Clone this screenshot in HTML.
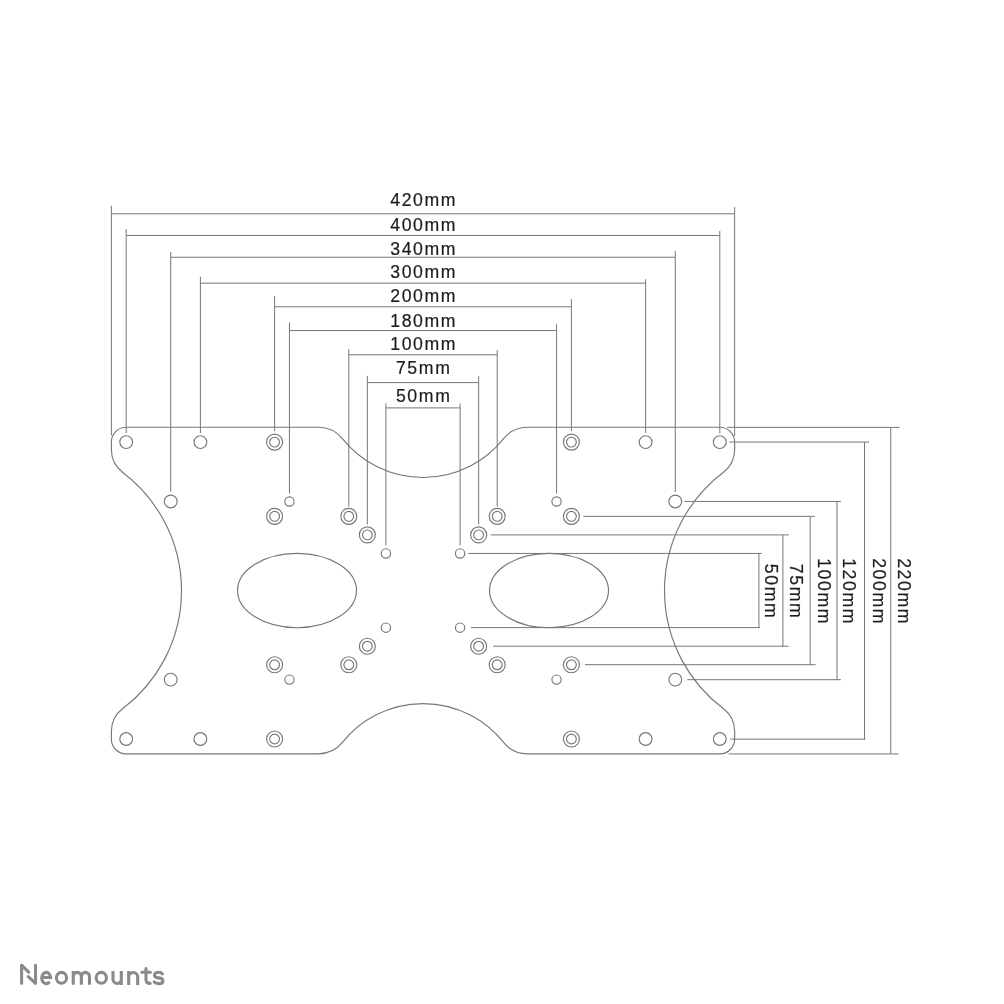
<!DOCTYPE html>
<html><head><meta charset="utf-8"><style>
html,body{margin:0;padding:0;background:#fff;width:1004px;height:1004px;overflow:hidden;}
svg{display:block;will-change:transform;font-family:"Liberation Sans",sans-serif;}
</style></head><body>
<svg width="1004" height="1004" viewBox="0 0 1004 1004">
<rect width="1004" height="1004" fill="#fff"/>
<g fill="none" stroke="#777777" stroke-width="1.0">
<circle cx="126.20" cy="442.10" r="6.40" stroke-width="1.15"/>
<circle cx="200.40" cy="442.10" r="6.40" stroke-width="1.15"/>
<circle cx="274.60" cy="442.10" r="8.00" stroke-width="1.15"/>
<circle cx="274.60" cy="442.10" r="4.90" stroke-width="1.15"/>
<circle cx="170.72" cy="501.48" r="6.40" stroke-width="1.15"/>
<circle cx="289.44" cy="501.48" r="4.65" stroke-width="1.15"/>
<circle cx="274.60" cy="516.32" r="8.00" stroke-width="1.15"/>
<circle cx="274.60" cy="516.32" r="4.90" stroke-width="1.15"/>
<circle cx="348.80" cy="516.32" r="8.00" stroke-width="1.15"/>
<circle cx="348.80" cy="516.32" r="4.90" stroke-width="1.15"/>
<circle cx="367.35" cy="534.88" r="8.00" stroke-width="1.15"/>
<circle cx="367.35" cy="534.88" r="4.90" stroke-width="1.15"/>
<circle cx="385.90" cy="553.44" r="4.65" stroke-width="1.15"/>
<circle cx="126.20" cy="739.00" r="6.40" stroke-width="1.15"/>
<circle cx="200.40" cy="739.00" r="6.40" stroke-width="1.15"/>
<circle cx="274.60" cy="739.00" r="8.00" stroke-width="1.15"/>
<circle cx="274.60" cy="739.00" r="4.90" stroke-width="1.15"/>
<circle cx="170.72" cy="679.62" r="6.40" stroke-width="1.15"/>
<circle cx="289.44" cy="679.62" r="4.65" stroke-width="1.15"/>
<circle cx="274.60" cy="664.77" r="8.00" stroke-width="1.15"/>
<circle cx="274.60" cy="664.77" r="4.90" stroke-width="1.15"/>
<circle cx="348.80" cy="664.77" r="8.00" stroke-width="1.15"/>
<circle cx="348.80" cy="664.77" r="4.90" stroke-width="1.15"/>
<circle cx="367.35" cy="646.22" r="8.00" stroke-width="1.15"/>
<circle cx="367.35" cy="646.22" r="4.90" stroke-width="1.15"/>
<circle cx="385.90" cy="627.66" r="4.65" stroke-width="1.15"/>
<circle cx="719.80" cy="442.10" r="6.40" stroke-width="1.15"/>
<circle cx="645.60" cy="442.10" r="6.40" stroke-width="1.15"/>
<circle cx="571.40" cy="442.10" r="8.00" stroke-width="1.15"/>
<circle cx="571.40" cy="442.10" r="4.90" stroke-width="1.15"/>
<circle cx="675.28" cy="501.48" r="6.40" stroke-width="1.15"/>
<circle cx="556.56" cy="501.48" r="4.65" stroke-width="1.15"/>
<circle cx="571.40" cy="516.32" r="8.00" stroke-width="1.15"/>
<circle cx="571.40" cy="516.32" r="4.90" stroke-width="1.15"/>
<circle cx="497.20" cy="516.32" r="8.00" stroke-width="1.15"/>
<circle cx="497.20" cy="516.32" r="4.90" stroke-width="1.15"/>
<circle cx="478.65" cy="534.88" r="8.00" stroke-width="1.15"/>
<circle cx="478.65" cy="534.88" r="4.90" stroke-width="1.15"/>
<circle cx="460.10" cy="553.44" r="4.65" stroke-width="1.15"/>
<circle cx="719.80" cy="739.00" r="6.40" stroke-width="1.15"/>
<circle cx="645.60" cy="739.00" r="6.40" stroke-width="1.15"/>
<circle cx="571.40" cy="739.00" r="8.00" stroke-width="1.15"/>
<circle cx="571.40" cy="739.00" r="4.90" stroke-width="1.15"/>
<circle cx="675.28" cy="679.62" r="6.40" stroke-width="1.15"/>
<circle cx="556.56" cy="679.62" r="4.65" stroke-width="1.15"/>
<circle cx="571.40" cy="664.77" r="8.00" stroke-width="1.15"/>
<circle cx="571.40" cy="664.77" r="4.90" stroke-width="1.15"/>
<circle cx="497.20" cy="664.77" r="8.00" stroke-width="1.15"/>
<circle cx="497.20" cy="664.77" r="4.90" stroke-width="1.15"/>
<circle cx="478.65" cy="646.22" r="8.00" stroke-width="1.15"/>
<circle cx="478.65" cy="646.22" r="4.90" stroke-width="1.15"/>
<circle cx="460.10" cy="627.66" r="4.65" stroke-width="1.15"/>
<path stroke-width="1.15" d="M126.20,427.26 H318.40 A31.00,31.00 0 0 1 342.60,438.88 A103.00,103.00 0 0 0 503.40,438.88 A31.00,31.00 0 0 1 527.60,427.26 H719.80 A14.84,14.84 0 0 1 734.64,442.10 V449.60 A28.78,28.78 0 0 1 723.21,472.56 A147.90,147.90 0 0 0 723.21,708.54 A28.78,28.78 0 0 1 734.64,731.50 V739.00 A14.84,14.84 0 0 1 719.80,753.84 H527.60 A31.00,31.00 0 0 1 503.40,742.22 A103.00,103.00 0 0 0 342.60,742.22 A31.00,31.00 0 0 1 318.40,753.84 H126.20 A14.84,14.84 0 0 1 111.36,739.00 V731.50 A28.78,28.78 0 0 1 122.79,708.54 A147.90,147.90 0 0 0 122.79,472.56 A28.78,28.78 0 0 1 111.36,449.60 V442.10 A14.84,14.84 0 0 1 126.20,427.26Z"/>
<ellipse cx="297.00" cy="590.55" rx="59.5" ry="37.2" stroke-width="1.15"/>
<ellipse cx="549.00" cy="590.55" rx="59.5" ry="37.2" stroke-width="1.15"/>
<line x1="111.36" y1="213.75" x2="734.64" y2="213.75"/>
<line x1="111.36" y1="205.80" x2="111.36" y2="435.50"/>
<line x1="734.64" y1="207.10" x2="734.64" y2="436.00"/>
<line x1="126.20" y1="235.50" x2="719.80" y2="235.50"/>
<line x1="126.20" y1="229.10" x2="126.20" y2="433.00"/>
<line x1="719.80" y1="230.90" x2="719.80" y2="433.50"/>
<line x1="170.72" y1="257.25" x2="675.28" y2="257.25"/>
<line x1="170.72" y1="252.00" x2="170.72" y2="491.70"/>
<line x1="675.28" y1="250.90" x2="675.28" y2="492.00"/>
<line x1="200.40" y1="283.15" x2="645.60" y2="283.15"/>
<line x1="200.40" y1="276.70" x2="200.40" y2="433.00"/>
<line x1="645.60" y1="279.30" x2="645.60" y2="433.00"/>
<line x1="274.60" y1="306.78" x2="571.40" y2="306.78"/>
<line x1="274.60" y1="296.10" x2="274.60" y2="431.00"/>
<line x1="571.40" y1="299.00" x2="571.40" y2="431.00"/>
<line x1="289.44" y1="330.55" x2="556.56" y2="330.55"/>
<line x1="289.44" y1="322.50" x2="289.44" y2="493.60"/>
<line x1="556.56" y1="324.20" x2="556.56" y2="493.60"/>
<line x1="348.80" y1="354.80" x2="497.20" y2="354.80"/>
<line x1="348.80" y1="349.10" x2="348.80" y2="506.60"/>
<line x1="497.20" y1="350.00" x2="497.20" y2="506.60"/>
<line x1="367.35" y1="382.58" x2="478.65" y2="382.58"/>
<line x1="367.35" y1="375.80" x2="367.35" y2="524.50"/>
<line x1="478.65" y1="376.20" x2="478.65" y2="524.50"/>
<line x1="385.90" y1="407.90" x2="460.10" y2="407.90"/>
<line x1="385.90" y1="403.30" x2="385.90" y2="545.40"/>
<line x1="460.10" y1="403.60" x2="460.10" y2="545.40"/>
<line x1="468.25" y1="553.45" x2="761.80" y2="553.45"/>
<line x1="470.90" y1="627.60" x2="760.10" y2="627.60"/>
<line x1="758.90" y1="553.45" x2="758.90" y2="627.60"/>
<line x1="490.50" y1="534.90" x2="788.85" y2="534.90"/>
<line x1="493.10" y1="646.20" x2="788.80" y2="646.20"/>
<line x1="782.90" y1="534.90" x2="782.90" y2="646.20"/>
<line x1="583.30" y1="516.35" x2="814.80" y2="516.35"/>
<line x1="585.00" y1="664.70" x2="815.60" y2="664.70"/>
<line x1="810.20" y1="516.35" x2="810.20" y2="664.70"/>
<line x1="684.20" y1="501.45" x2="840.90" y2="501.45"/>
<line x1="687.30" y1="679.70" x2="840.90" y2="679.70"/>
<line x1="837.00" y1="501.45" x2="837.00" y2="679.70"/>
<line x1="729.40" y1="442.05" x2="869.00" y2="442.05"/>
<line x1="730.40" y1="739.15" x2="865.50" y2="739.15"/>
<line x1="864.50" y1="442.05" x2="864.50" y2="739.15"/>
<line x1="727.20" y1="427.35" x2="899.50" y2="427.35"/>
<line x1="728.60" y1="753.95" x2="898.50" y2="753.95"/>
<line x1="890.75" y1="427.35" x2="890.75" y2="753.95"/>
</g>
<g fill="#1c1c1c" font-family="Liberation Sans, sans-serif" font-size="19.0" stroke="#1c1c1c" stroke-width="0.22" letter-spacing="1.75" text-anchor="middle">
<text transform="translate(423.70,206.40) scale(0.93,1)">420mm</text>
<text transform="translate(423.70,230.80) scale(0.93,1)">400mm</text>
<text transform="translate(423.70,255.00) scale(0.93,1)">340mm</text>
<text transform="translate(423.70,277.50) scale(0.93,1)">300mm</text>
<text transform="translate(423.70,301.60) scale(0.93,1)">200mm</text>
<text transform="translate(423.70,326.60) scale(0.93,1)">180mm</text>
<text transform="translate(423.70,349.90) scale(0.93,1)">100mm</text>
<text transform="translate(423.70,373.60) scale(0.93,1)">75mm</text>
<text transform="translate(423.70,401.60) scale(0.93,1)">50mm</text>
<text transform="translate(765.40,591.65) rotate(90) scale(0.93,1)">50mm</text>
<text transform="translate(789.50,591.65) rotate(90) scale(0.93,1)">75mm</text>
<text transform="translate(817.50,591.65) rotate(90) scale(0.93,1)">100mm</text>
<text transform="translate(843.00,591.65) rotate(90) scale(0.93,1)">120mm</text>
<text transform="translate(872.90,591.65) rotate(90) scale(0.93,1)">200mm</text>
<text transform="translate(897.50,591.65) rotate(90) scale(0.93,1)">220mm</text>
</g>
<g fill="none" stroke="#8a8a8a" stroke-width="3.1">
<path stroke-linecap="round" stroke-linejoin="round" d="M21.6,983.3 V965.2 L28.7,972.2 M28.3,976.6 L35.5,983.3 V965.2"/>
<path d="M41.7,977.55 H50.59 A4.45,5.6 0 1 0 49.56,981.6"/>
<ellipse cx="61.5" cy="977.85" rx="5.1" ry="5.45"/>
<path d="M73.25,984.8 V970.9 M73.25,976.4 A4.05,4.05 0 0 1 81.35,976.4 V984.8 M81.35,976.4 A4.075,4.075 0 0 1 89.5,976.4 V984.8"/>
<ellipse cx="101.3" cy="977.85" rx="5.15" ry="5.45"/>
<path d="M113,971.1 V979.3 A4.15,4.15 0 0 0 121.3,979.3 M121.3,971.1 V984.9"/>
<path d="M128.7,984.9 V971.1 M128.7,977.05 A4.5,4.5 0 0 1 137.7,977.05 V984.9"/>
<path stroke-linecap="round" d="M146,968.6 V979.8 Q146,983.5 150.2,983.4 M141.8,972.3 H150.4"/>
<path stroke-linecap="round" d="M162.4,973.9 C161.5,972.8 160.2,972.2 158.6,972.2 C156.2,972.2 154.5,973.5 154.5,975.2 C154.5,977.2 156.6,977.6 158.7,977.9 C161.2,978.3 163,979 163,980.9 C163,982.6 161.2,983.6 158.6,983.6 C156.7,983.6 155.1,983 154.2,982"/>
</g>
</svg>
</body></html>
